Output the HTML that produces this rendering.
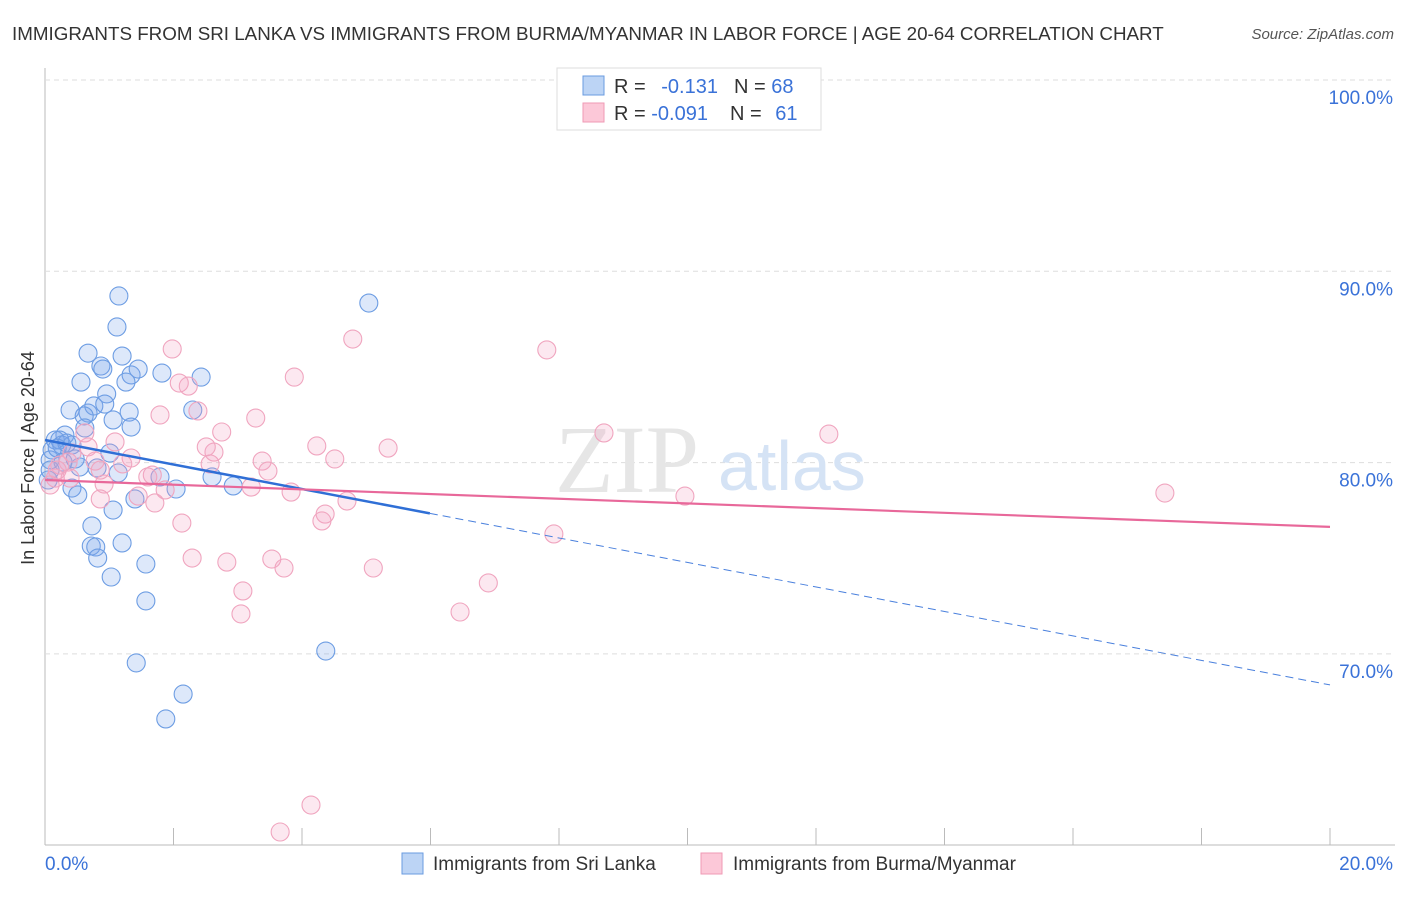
<!DOCTYPE html>
<html><head><meta charset="utf-8"><style>
body{margin:0;background:#fff;font-family:"Liberation Sans",sans-serif}
</style></head><body>
<svg width="1406" height="892" xmlns="http://www.w3.org/2000/svg" font-family="Liberation Sans, sans-serif">
<text x="12" y="40" font-size="18.8" fill="#333">IMMIGRANTS FROM SRI LANKA VS IMMIGRANTS FROM BURMA/MYANMAR IN LABOR FORCE | AGE 20-64 CORRELATION CHART</text>
<text x="1394" y="39" font-size="15" fill="#555" text-anchor="end" font-style="italic">Source: ZipAtlas.com</text>
<g id="grid"></g>
<text x="555" y="492" font-size="96" fill="#e6e6e6" font-family="Liberation Serif, serif">ZIP</text>
<text x="718" y="490" font-size="70" fill="#d5e3f5">atlas</text>
<g id="pts"></g>
<g id="lines"></g>
<text transform="translate(34,458) rotate(-90)" font-size="18" fill="#333" text-anchor="middle">In Labor Force | Age 20-64</text>
<g>
<rect x="557" y="68" width="264" height="62" fill="#fff" stroke="#ddd"/>
<rect x="583" y="76" width="21" height="19" fill="#bcd4f5" stroke="#6a9be0"/>
<rect x="583" y="103" width="21" height="19" fill="#fcc8d8" stroke="#ef9ab5"/>
<text x="614" y="93" font-size="20" fill="#333">R = <tspan fill="#3a72d8" dx="10">-0.131</tspan><tspan dx="16" fill="#333">N = </tspan><tspan fill="#3a72d8">68</tspan></text>
<text x="614" y="120" font-size="20" fill="#333">R = <tspan fill="#3a72d8">-0.091</tspan><tspan dx="22" fill="#333">N = </tspan><tspan fill="#3a72d8" dx="8">61</tspan></text>
</g>
<g>
<rect x="402" y="853" width="21" height="21" fill="#bcd4f5" stroke="#6a9be0"/>
<text x="433" y="870" font-size="19" fill="#333">Immigrants from Sri Lanka</text>
<rect x="701" y="853" width="21" height="21" fill="#fcc8d8" stroke="#ef9ab5"/>
<text x="733" y="870" font-size="19" fill="#333">Immigrants from Burma/Myanmar</text>
</g>
</svg>
<script>
const xTicks=[0,20];
const yTicks=[100,90,80,70];
const blueX=[1.15,1.12,0.67,1.20,0.87,1.34,0.90,0.56,1.26,1.45,1.82,2.43,0.96,0.39,0.67,0.76,0.93,1.31,0.61,1.06,1.34,2.30,0.62,0.31,0.16,0.23,0.42,1.01,0.81,0.54,1.14,1.79,2.04,2.60,2.93,0.42,0.51,1.40,1.06,0.73,0.72,0.79,1.20,0.82,1.03,1.57,1.57,1.42,2.15,1.88,4.37,5.04,0.08,0.08,0.11,0.05,0.26,0.34,0.19,0.28,0.47];
const blueY=[88.71,87.09,85.72,85.57,85.05,84.58,84.89,84.21,84.21,84.89,84.68,84.47,83.59,82.75,82.59,82.96,83.06,82.64,82.44,82.23,81.86,82.75,81.81,81.44,81.18,81.18,80.92,80.50,79.72,79.77,79.46,79.25,78.62,79.25,78.78,78.67,78.31,78.10,77.52,76.69,75.64,75.59,75.80,75.01,74.02,74.70,72.77,69.53,67.90,66.60,70.15,88.34,80.14,79.61,80.66,79.09,80.92,81.02,80.76,80.03,80.19];
const pinkX=[1.98,2.09,2.23,2.38,1.79,2.75,3.28,3.88,4.79,7.81,8.70,12.20,17.43,9.96,5.34,4.23,4.51,3.38,3.47,2.57,2.63,2.51,1.34,1.09,1.21,1.67,1.60,1.87,1.45,1.71,0.92,0.86,0.67,0.78,0.42,0.36,0.23,0.16,0.08,3.83,3.21,4.70,4.36,4.31,2.13,7.92,2.29,2.83,3.53,3.72,5.11,6.90,3.08,3.05,6.46,4.14,3.66,0.62,0.19,0.39,0.86];
const pinkY=[85.94,84.16,84.00,82.70,82.49,81.60,82.33,84.47,86.46,85.89,81.55,81.49,78.41,78.25,80.76,80.87,80.19,80.08,79.56,79.93,80.55,80.82,80.24,81.08,79.93,79.35,79.25,78.57,78.25,77.89,78.88,78.10,80.82,80.08,80.50,80.03,79.87,79.19,78.83,78.46,78.72,77.99,77.31,76.95,76.84,76.27,75.01,74.80,74.96,74.49,74.49,73.71,73.29,72.09,72.19,62.10,60.69,81.55,79.61,79.19,79.61];
const blueTrend=[81.18,68.38]; const blueSolidEnd=5.99;
const pinkTrend=[79.09,76.64];
const NS='http://www.w3.org/2000/svg';
const sx=v=>45+v*64.25, sy=v=>80+(100-v)*19.13;
function mk(t,a,p){const e=document.createElementNS(NS,t);for(const k in a)e.setAttribute(k,a[k]);p.appendChild(e);return e;}
const g=document.getElementById('grid');
let ax=mk('line',{x1:45,y1:68,x2:45,y2:845,stroke:'#bbb'},g);


yTicks.forEach(t=>{
 const l=mk('line',{x1:45,y1:sy(t),x2:1395,y2:sy(t),stroke:'#ddd','stroke-dasharray':'5,4'},g);
 
 
 const tx=mk('text',{x:1393,y:sy(t)+24,'font-size':19,fill:'#3a72d8','text-anchor':'end'},g);
 tx.textContent=t.toFixed(1)+'%';
 
 
});
for(let i=0;i<=10;i++){
 const l=mk('line',{x1:sx(i*2),y1:828,x2:sx(i*2),y2:845,stroke:'#bbb'},g);
 
 
}
let bl=mk('line',{x1:45,y1:845,x2:1395,y2:845,stroke:'#bbb'},g);


xTicks.forEach((t,i)=>{
 const tx=mk('text',{x:i?1393:45,y:870,'font-size':19,fill:'#3a72d8','text-anchor':i?'end':'start'},g);
 tx.textContent=t.toFixed(1)+'%';
 
 
});
const P=document.getElementById('pts');
blueX.forEach((x,i)=>{
 const c=mk('circle',{cx:sx(x),cy:sy(blueY[i]),r:9,fill:'rgba(120,165,235,0.25)',stroke:'#6d9de3','stroke-width':1.1},P);
 
 
});
pinkX.forEach((x,i)=>{
 const c=mk('circle',{cx:sx(x),cy:sy(pinkY[i]),r:9,fill:'rgba(245,165,195,0.25)',stroke:'#f0a5bf','stroke-width':1.1},P);
 
 
});
const L=document.getElementById('lines');
const by=x=>blueTrend[0]+(blueTrend[1]-blueTrend[0])*x/20;
let l1=mk('line',{x1:sx(0),y1:sy(by(0)),x2:sx(blueSolidEnd),y2:sy(by(blueSolidEnd)),stroke:'#2f6fd6','stroke-width':2.5},L);


let l2=mk('line',{x1:sx(blueSolidEnd),y1:sy(by(blueSolidEnd)),x2:sx(20),y2:sy(by(20)),stroke:'#4a80dd','stroke-width':1,'stroke-dasharray':'8,5'},L);


let l3=mk('line',{x1:sx(0),y1:sy(pinkTrend[0]),x2:sx(20),y2:sy(pinkTrend[1]),stroke:'#e8689a','stroke-width':2.2},L);


</script>
</body></html>
